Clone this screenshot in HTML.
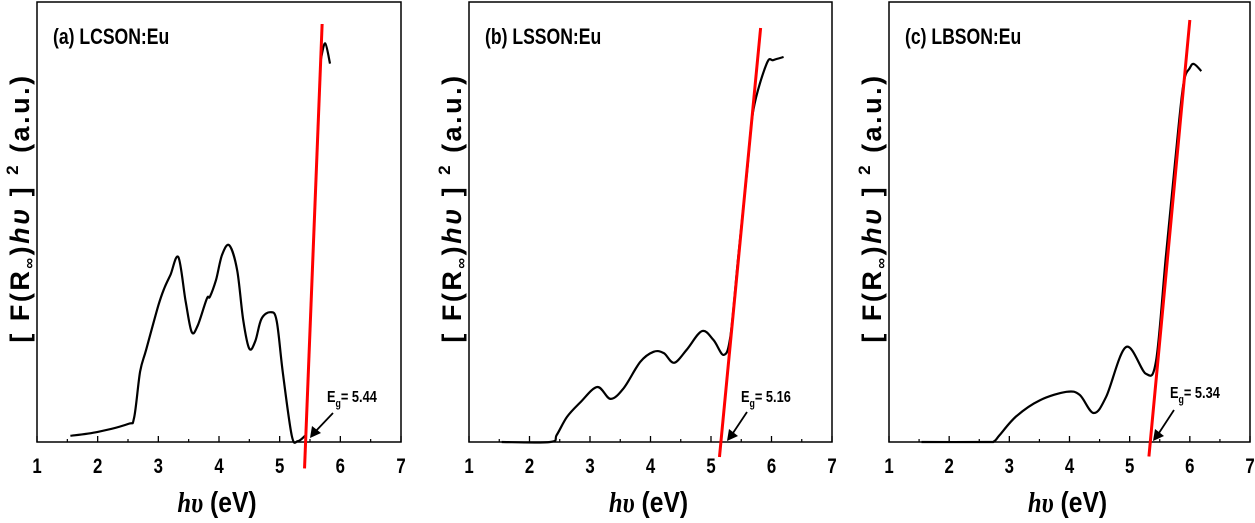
<!DOCTYPE html>
<html><head><meta charset="utf-8"><style>
body{margin:0;background:#fff}
svg{display:block;font-family:"Liberation Sans",sans-serif}
</style></head><body>
<svg id="chart" width="1255" height="523" viewBox="0 0 1255 523" xmlns="http://www.w3.org/2000/svg"></svg>
<script>
const xTicks=[1,2,3,4,5,6,7];
const panelTitles=["(a) LCSON:Eu","(b) LSSON:Eu","(c) LBSON:Eu"];
const egValues=["5.44","5.16","5.34"];
const curveA_x=[1.55,2.0,2.5,2.6,2.7,2.8,3.0,3.1,3.2,3.33,3.45,3.55,3.65,3.8,3.85,3.95,4.05,4.17,4.3,4.4,4.5,4.6,4.7,4.85,4.95,5.05,5.2,5.3,5.42];
const curveA_y=[1.4,2.3,4.1,5.5,16,21,31,35,38,42,32,25,26.5,32.6,33,36.8,42.5,44.7,39,27.6,21.2,23,28,29.5,27.6,16,1.4,0.2,1.4];
const curveA2_x=[5.68,5.75,5.83];
const curveA2_y=[87,90.6,86];
const curveB_x=[1.54,2.34,2.45,2.62,2.84,3.12,3.34,3.56,3.83,4.05,4.22,4.39,4.6,4.85,5.04,5.21,5.32,5.45,5.6,5.7,5.92,6.03,6.2];
const curveB_y=[0,0,1.6,5.7,9,12.5,9.8,12.3,18.2,20.5,20.2,18,21,25.2,23.2,19.8,24,42,62,75.5,86,86.8,87.5];
const curveC_x=[1.54,2.6,2.75,2.84,3.12,3.51,3.95,4.17,4.4,4.61,4.94,5.27,5.44,5.6,5.75,5.89,6.0,6.07,6.19];
const curveC_y=[0,0,0.2,1.6,5.9,9.5,11.4,10.7,6.6,10.3,21.6,15.5,18.5,42,63,81,85,85.9,84.3];
const redA_x=[5.41,5.70], redA_y=[-6,95];
const redB_x=[5.14,5.82], redB_y=[-3.4,94.1];
const redC_x=[5.32,6.0], redC_y=[-3.3,95.9];

const NS="http://www.w3.org/2000/svg";
const svg=document.getElementById('chart');
function mk(tag,attrs,parent){const e=document.createElementNS(NS,tag);for(const k in attrs)e.setAttribute(k,attrs[k]);(parent||svg).appendChild(e);return e;}
function smooth(pts){
 let d='M'+pts[0][0].toFixed(1)+','+pts[0][1].toFixed(1);
 for(let i=0;i<pts.length-1;i++){
  const p0=pts[Math.max(0,i-1)],p1=pts[i],p2=pts[i+1],p3=pts[Math.min(pts.length-1,i+2)];
  const c1=[p1[0]+(p2[0]-p0[0])/6,p1[1]+(p2[1]-p0[1])/6];
  const c2=[p2[0]-(p3[0]-p1[0])/6,p2[1]-(p3[1]-p1[1])/6];
  d+=' C'+c1.map(v=>v.toFixed(1)).join(',')+' '+c2.map(v=>v.toFixed(1)).join(',')+' '+p2.map(v=>v.toFixed(1)).join(',');
 }
 return d;
}
const panels=[
 {L:37,R:401,curves:[[curveA_x,curveA_y],[curveA2_x,curveA2_y]],red:[redA_x,redA_y],eg:[327,402],arrow:[333,413,310,438]},
 {L:469,R:832,curves:[[curveB_x,curveB_y]],red:[redB_x,redB_y],eg:[741,402],arrow:[747,412,727,441]},
 {L:889,R:1250,curves:[[curveC_x,curveC_y]],red:[redC_x,redC_y],eg:[1170,398],arrow:[1174,410,1153,441]}
];
const T=2,B=442;
panels.forEach((p,i)=>{
 const g=mk('g',{});
 
 
 const xs=v=>p.L+(v-1)/6*(p.R-p.L);
 const ys=v=>B-v/100*(B-T);
 const fr=mk('rect',{x:p.L,y:T,width:p.R-p.L,height:B-T,fill:'none',stroke:'#000','stroke-width':1.5},g);
 
 
 xTicks.forEach((t,j)=>{
  const tk=mk('line',{x1:xs(t),x2:xs(t),y1:B,y2:B-6,stroke:'#000','stroke-width':1.3},g);
  
  
  if(j<xTicks.length-1){const m=mk('line',{x1:xs(t+0.5),x2:xs(t+0.5),y1:B,y2:B-3,stroke:'#000','stroke-width':1.2},g);
   
   }
  const tl=mk('text',{x:xs(t),y:B+31,'text-anchor':'middle','font-size':21,'font-weight':'bold',transform:`translate(${xs(t)},0) scale(0.8,1) translate(${-xs(t)},0)`},g);
  tl.textContent=t;
  
  
 });
 p.curves.forEach(c=>{
  const pts=c[0].map((x,k)=>[xs(x),ys(c[1][k])]);
  const pa=mk('path',{d:smooth(pts),fill:'none',stroke:'#000','stroke-width':2.2,'stroke-linejoin':'round'},g);
  
  
 });
 const rl=mk('line',{x1:xs(p.red[0][0]),y1:ys(p.red[1][0]),x2:xs(p.red[0][1]),y2:ys(p.red[1][1]),stroke:'#f00','stroke-width':3},g);
 
 
 const tx=p.L+16;
 const tt=mk('text',{x:tx,y:44,'font-size':22,'font-weight':'bold',transform:`translate(${tx},0) scale(0.8,1) translate(${-tx},0)`},g);
 tt.textContent=panelTitles[i];
 
 
 const eg=mk('text',{x:p.eg[0],y:p.eg[1],'font-size':16,'font-weight':'bold',transform:`translate(${p.eg[0]},0) scale(0.8,1) translate(${-p.eg[0]},0)`},g);
 eg.innerHTML='E<tspan font-size="11" dy="5">g</tspan><tspan dy="-5">= '+egValues[i]+'</tspan>';
 
 
 const a=p.arrow;
 const ar=mk('line',{x1:a[0],y1:a[1],x2:a[2]+4,y2:a[3]-5,stroke:'#000','stroke-width':1.8},g);
 
 
 const ah=mk('polygon',{points:`${a[2]},${a[3]} ${a[2]+2},${a[3]-12} ${a[2]+11},${a[3]-5}`,fill:'#000'},g);
 
 
 const cx=(p.L+p.R)/2-2;
 const xt=mk('text',{x:cx,y:512,'text-anchor':'middle','font-size':29,'font-weight':'bold',transform:`translate(${cx},0) scale(0.85,1) translate(${-cx},0)`},g);
 xt.innerHTML='<tspan font-style="italic" font-family="Liberation Serif">hυ</tspan> (eV)';
 
 
 const yx=p.L-8, yy=208;
 const yt=mk('text',{x:yx,y:yy,'text-anchor':'middle','font-size':27,'font-weight':'bold','letter-spacing':'2.5',transform:`rotate(-90 ${yx} ${yy})`},g);
 yt.innerHTML='[ F(R<tspan font-size="15" dy="5">∞</tspan><tspan dy="-5">)</tspan><tspan font-style="italic">hυ</tspan> ] <tspan font-size="17" dy="-11">2</tspan><tspan dy="11">  (a.u.)</tspan>';
 
 
});
</script>
</body></html>
